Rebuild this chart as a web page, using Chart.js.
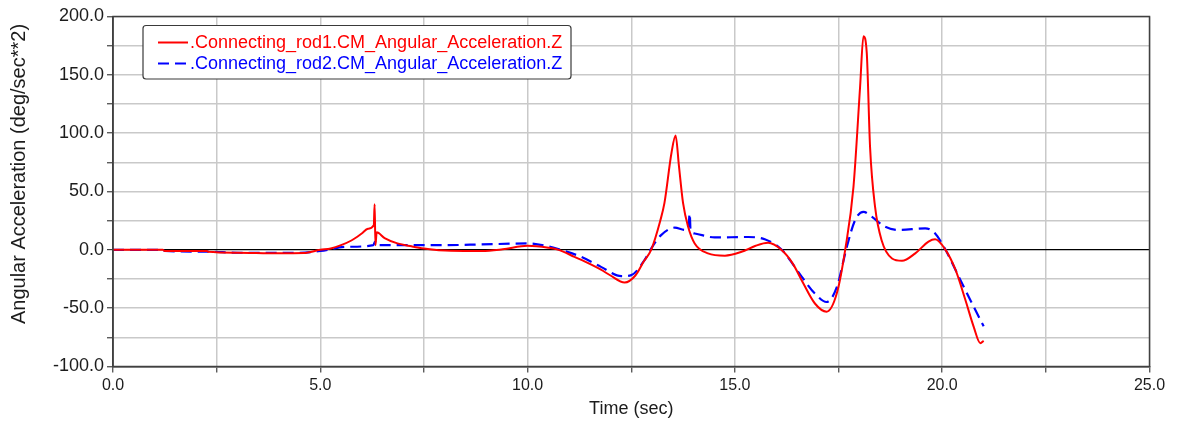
<!DOCTYPE html>
<html>
<head>
<meta charset="utf-8">
<script src="https://cdn.jsdelivr.net/npm/chart.js@4.4.1/dist/chart.umd.min.js"></script>
<style>
  html, body { margin: 0; padding: 0; background: #ffffff; }
  #wrap { width: 1186px; height: 428px; position: relative; }
</style>
</head>
<body>
<div id="wrap"><canvas id="plot"></canvas></div>
<script>
// Simulation output: angular acceleration (deg/sec**2) of both connecting rods over time (sec)
const rod1Label = '.Connecting_rod1.CM_Angular_Acceleration.Z';
const rod2Label = '.Connecting_rod2.CM_Angular_Acceleration.Z';

const rod1Time = [0, 1.2, 1.25, 2.27, 2.3, 3.0, 4.0, 4.6, 5.0, 5.25, 5.5, 5.75, 6.0, 6.15, 6.29, 6.31, 6.33, 6.36, 6.55, 6.86, 7.2, 7.5, 8.15, 8.9, 9.4, 10.0, 10.5, 10.75, 11.13, 11.5, 11.77, 12.0, 12.34, 12.6, 12.8, 12.98, 13.2, 13.3, 13.47, 13.57, 13.65, 13.75, 13.87, 14.03, 14.35, 14.76, 15.16, 15.5, 15.8, 16.12, 16.4, 16.61, 16.93, 17.21, 17.46, 17.66, 17.86, 18.02, 18.1, 18.18, 18.26, 18.38, 18.54, 18.79, 19.03, 19.35, 19.67, 19.83, 20.08, 20.32, 20.56, 20.76, 20.92, 21.0];
const rod1Accel = [0, 0, -1, -1, -1.7, -2.5, -3, -2.8, 0, 1.2, 4, 8, 14, 18, 21, 39, 4, 15, 10, 5.5, 3, 1.2, -0.8, -1, 0.5, 3.5, 1.8, 0, -6, -12, -17, -22, -28, -22, -10, 0, 25, 40, 83, 98, 72, 40, 20, 5.5, -3, -5, -1.7, 3.5, 6, 0, -12, -26, -46, -53, -37, 0, 54, 140, 183, 169, 88, 37, 8, -7.4, -9.4, -3, 7, 9, 0, -17, -43, -66, -80, -78];

const rod2Time = [0, 1.2, 1.25, 2.3, 3.0, 4.5, 5.0, 5.65, 6.28, 6.32, 6.36, 6.86, 8.0, 8.87, 10.0, 10.49, 10.8, 11.29, 11.77, 12.26, 12.5, 12.82, 12.98, 13.22, 13.55, 13.79, 13.88, 13.91, 13.93, 14.03, 14.51, 15.32, 15.72, 16.13, 16.61, 16.93, 17.21, 17.46, 17.7, 17.9, 18.1, 18.3, 18.62, 18.95, 19.59, 19.83, 20.08, 20.4, 20.72, 21.0];
const rod2Accel = [0, 0, -1, -1.5, -2.5, -2.5, -1, 2.6, 4, 7, 4, 4, 4, 4.6, 5.5, 3, 0, -6, -14.6, -22.6, -21.7, -8.8, 1, 12.6, 19, 17, 20, 31, 17, 14, 10.6, 11, 9, 0, -23, -37.5, -44.7, -31.8, 2.6, 25.5, 32.6, 28.4, 19.8, 17, 18.4, 14, 0, -23, -46, -65.5];

// Axis ranges and labelled tick values
const timeTicks = [0, 5, 10, 15, 20, 25];
const accelTicks = [-100, -50, 0, 50, 100, 150, 200];

const toPoints = (xs, ys) => xs.map((x, i) => ({ x: x, y: ys[i] }));

const FONT = "'Liberation Sans', Arial, sans-serif";
const AXIS_COLOR = '#404040';
const GRID_COLOR = '#c9c9c9';
const TEXT_COLOR = '#1c1c1c';

// Frame around the plot area, boxed legend and vertical axis title
const framePlugin = {
  id: 'frameAndLegend',
  afterDraw(chart) {
    const { ctx, chartArea: a } = chart;
    ctx.save();
    ctx.strokeStyle = AXIS_COLOR;
    ctx.lineWidth = 1.5;
    ctx.strokeRect(a.left, a.top, a.right - a.left, a.bottom - a.top);

    // legend box
    const bx = 143, by = 25.5, bw = 428, bh = 53.5;
    ctx.fillStyle = '#ffffff';
    ctx.beginPath();
    ctx.roundRect(bx, by, bw, bh, 3);
    ctx.fill();
    ctx.lineWidth = 1.2;
    ctx.strokeStyle = '#3a3a3a';
    ctx.stroke();

    ctx.font = '18px ' + FONT;
    ctx.textBaseline = 'middle';
    ctx.textAlign = 'left';
    const rowsY = [42.5, 63.5];
    chart.data.datasets.forEach((ds, i) => {
      const y = rowsY[i];
      ctx.strokeStyle = ds.borderColor;
      ctx.lineWidth = 2;
      ctx.setLineDash(ds.borderDash || []);
      ctx.beginPath();
      ctx.moveTo(158, y);
      ctx.lineTo(188, y);
      ctx.stroke();
      ctx.setLineDash([]);
      ctx.fillStyle = ds.borderColor;
      ctx.fillText(ds.label, 190, y + 1);
    });

    // y axis title
    ctx.save();
    ctx.translate(19, 174);
    ctx.rotate(-Math.PI / 2);
    ctx.textAlign = 'center';
    ctx.textBaseline = 'middle';
    ctx.fillStyle = TEXT_COLOR;
    ctx.font = '20px ' + FONT;
    ctx.fillText('Angular Acceleration (deg/sec**2)', 0, 0);
    ctx.restore();

    ctx.restore();
  }
};

new Chart(document.getElementById('plot'), {
  type: 'line',
  data: {
    datasets: [
      {
        label: rod1Label,
        data: toPoints(rod1Time, rod1Accel),
        borderColor: '#ff0000',
        borderWidth: 2,
        pointRadius: 0,
        cubicInterpolationMode: 'monotone',
        fill: false
      },
      {
        label: rod2Label,
        data: toPoints(rod2Time, rod2Accel),
        borderColor: '#0000ff',
        borderWidth: 2.2,
        borderDash: [11, 6],
        pointRadius: 0,
        cubicInterpolationMode: 'monotone',
        fill: false
      }
    ]
  },
  options: {
    responsive: true,
    maintainAspectRatio: false,
    animation: false,
    devicePixelRatio: 1,
    layout: { padding: { left: 0, top: 16.5, right: 36.5, bottom: 0 } },
    plugins: {
      legend: { display: false },
      tooltip: { enabled: false }
    },
    scales: {
      x: {
        type: 'linear',
        min: timeTicks[0],
        max: timeTicks[timeTicks.length - 1],
        afterFit(scale) { scale.height = 61.5; },
        ticks: {
          stepSize: 2.5,
          autoSkip: false,
          maxRotation: 0,
          padding: 3,
          color: TEXT_COLOR,
          font: { family: FONT, size: 16 },
          callback: (v) => timeTicks.includes(v) ? v.toFixed(1) : ''
        },
        grid: {
          color: GRID_COLOR,
          lineWidth: 1.5,
          tickColor: AXIS_COLOR,
          tickLength: 6,
          tickWidth: 1.2
        },
        border: { color: AXIS_COLOR, width: 1.5 },
        title: {
          display: true,
          text: 'Time (sec)',
          color: TEXT_COLOR,
          font: { family: FONT, size: 18 },
          padding: { top: 0, bottom: 8 }
        }
      },
      y: {
        min: accelTicks[0],
        max: accelTicks[accelTicks.length - 1],
        afterFit(scale) { scale.width = 113; },
        ticks: {
          stepSize: 25,
          autoSkip: false,
          padding: 3,
          color: TEXT_COLOR,
          font: { family: FONT, size: 18 },
          callback: (v) => accelTicks.includes(v) ? v.toFixed(1) : ''
        },
        grid: {
          color: (c) => (c.tick && c.tick.value === 0) ? '#000000' : GRID_COLOR,
          lineWidth: (c) => (c.tick && c.tick.value === 0) ? 1.2 : 1.5,
          tickColor: AXIS_COLOR,
          tickLength: 6,
          tickWidth: 1.2
        },
        border: { color: AXIS_COLOR, width: 1.5 }
      }
    }
  },
  plugins: [framePlugin]
});
</script>
</body>
</html>
